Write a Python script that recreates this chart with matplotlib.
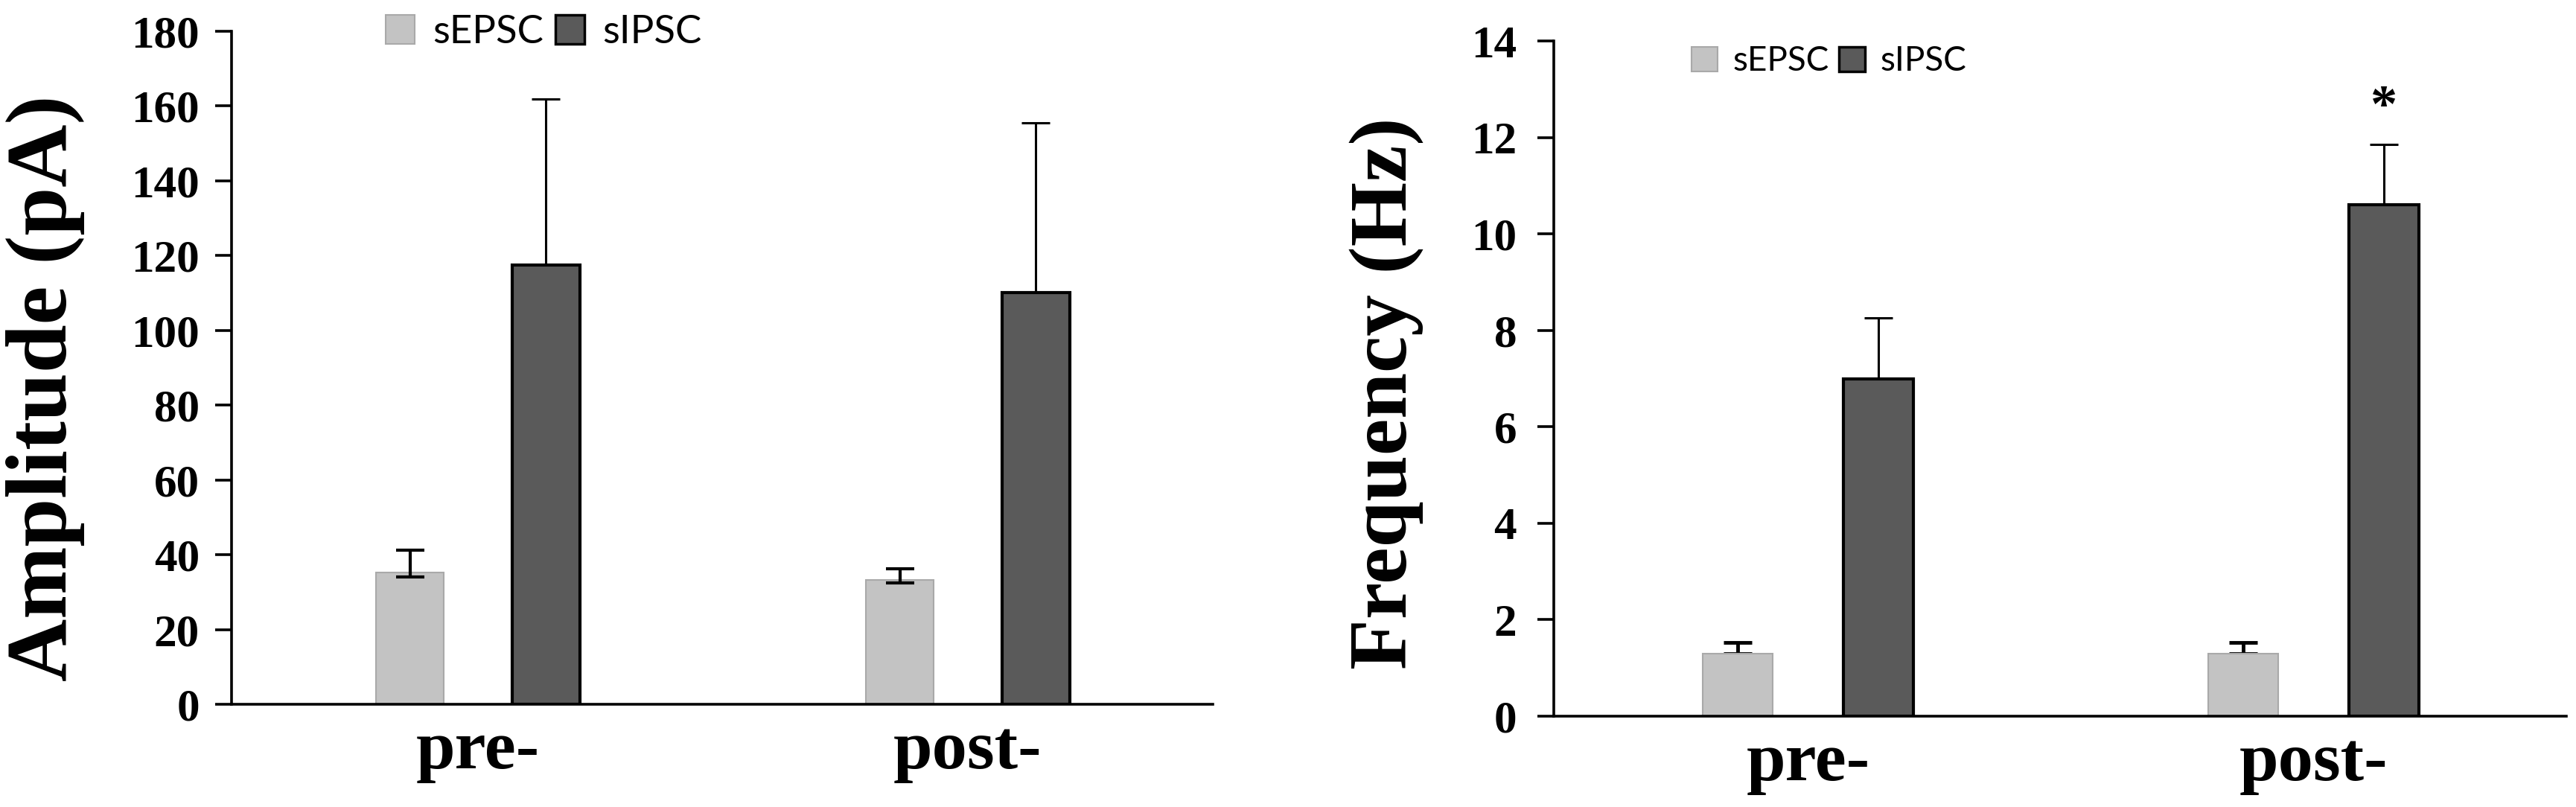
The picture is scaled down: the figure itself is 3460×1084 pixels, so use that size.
import numpy as np
import matplotlib
matplotlib.use("Agg")
import matplotlib.pyplot as plt
from matplotlib.patches import Patch

# data
groups = ["pre-", "post-"]
series = ["sEPSC", "sIPSC"]

amp_epsc = [35.2, 33.2]
amp_ipsc = [117.4, 110.2]
amp_epsc_err_hi = [6.1, 3.0]
amp_epsc_err_lo = [1.2, 0.8]
amp_ipsc_err_hi = [44.4, 45.3]

freq_epsc = [1.30, 1.30]
freq_ipsc = [7.0, 10.6]
freq_epsc_err = [0.23, 0.23]
freq_ipsc_err = [1.26, 1.26]

amp_ticks = [0, 20, 40, 60, 80, 100, 120, 140, 160, 180]
freq_ticks = [0, 2, 4, 6, 8, 10, 12, 14]

light = "#c3c3c3"
light_edge = "#a9a9a9"
dark = "#5a5a5a"

serif = ["Liberation Serif", "DejaVu Serif"]

fig = plt.figure(figsize=(34.6, 10.84), dpi=100)
ax1 = fig.add_axes([0.0899, 0.1273, 0.3809, 0.834])
ax2 = fig.add_axes([0.6032, 0.1125, 0.3930, 0.8367])

x = np.arange(len(groups))
off = 0.139
w = 0.138


def style_axis(ax, ticks, label, label_xy, ypad, lsize):
    for s in ["top", "right"]:
        ax.spines[s].set_visible(False)
    for s in ["left", "bottom"]:
        ax.spines[s].set_linewidth(2.6)
    ax.set_xlim(-0.503, 1.50)
    ax.set_ylim(ticks[0], ticks[-1])
    ax.set_yticks(ticks)
    ax.set_xticks(x)
    ax.set_xticklabels(groups)
    ax.tick_params(axis="y", direction="out", length=16, width=2.6, pad=ypad)
    ax.tick_params(axis="x", length=0, pad=15)
    for t in ax.get_yticklabels():
        t.set_fontfamily(serif)
        t.set_fontweight("bold")
        t.set_fontsize(44)
    for t in ax.get_xticklabels():
        t.set_fontfamily(serif)
        t.set_fontweight("bold")
        t.set_fontsize(68)
    ax.set_ylabel(label, fontfamily=serif, fontweight="bold", fontsize=lsize)
    ax.yaxis.set_label_coords(*label_xy)
    ax.yaxis.label.set_verticalalignment("center")


def legend(ax, anchor, size):
    handles = [Patch(facecolor=light, edgecolor=light_edge, linewidth=1.5),
               Patch(facecolor=dark, edgecolor="black", linewidth=2.5)]
    ax.legend(handles, series, loc="center", bbox_to_anchor=anchor,
              bbox_transform=fig.transFigure, ncol=2, frameon=False,
              handlelength=0.75, handleheight=0.75, handletextpad=0.45,
              columnspacing=0.3, borderpad=0,
              prop={"family": ["Lato", "DejaVu Sans"], "size": size})


# amplitude panel
ax1.bar(x - off, amp_epsc, w, color=light, edgecolor=light_edge, linewidth=1.5, zorder=2)
ax1.errorbar(x - off, amp_epsc, yerr=[amp_epsc_err_lo, amp_epsc_err_hi], fmt="none",
             ecolor="black", elinewidth=3, capsize=14, capthick=3, zorder=3)
ax1.bar(x + off, amp_ipsc, w, color=dark, edgecolor="black", linewidth=3, zorder=2)
ax1.errorbar(x + off, amp_ipsc, yerr=[[0, 0], amp_ipsc_err_hi], fmt="none",
             ecolor="black", elinewidth=2.2, capsize=14, capthick=2.2, zorder=1)
style_axis(ax1, amp_ticks, "Amplitude (pA)", (-0.19, 0.47), 15, 84)
legend(ax1, (0.211, 0.960), 38)

# frequency panel
ax2.bar(x - off, freq_epsc, w, color=light, edgecolor=light_edge, linewidth=1.5, zorder=2)
ax2.errorbar(x - off, freq_epsc, yerr=[[0, 0], freq_epsc_err], fmt="none",
             ecolor="black", elinewidth=3.5, capsize=14, capthick=3.5, zorder=1)
ax2.bar(x + off, freq_ipsc, w, color=dark, edgecolor="black", linewidth=3, zorder=2)
ax2.errorbar(x + off, freq_ipsc, yerr=[[0, 0], freq_ipsc_err], fmt="none",
             ecolor="black", elinewidth=2.2, capsize=14, capthick=2.2, zorder=1)
ax2.text(x[1] + off, freq_ipsc[1] + freq_ipsc_err[1] + 0.25, "*", ha="center", va="bottom",
         fontfamily=serif, fontweight="bold", fontsize=52)
style_axis(ax2, freq_ticks, "Frequency (Hz)", (-0.165, 0.478), 20, 80)
legend(ax2, (0.710, 0.924), 33)

fig.savefig("out.png", dpi=100)
